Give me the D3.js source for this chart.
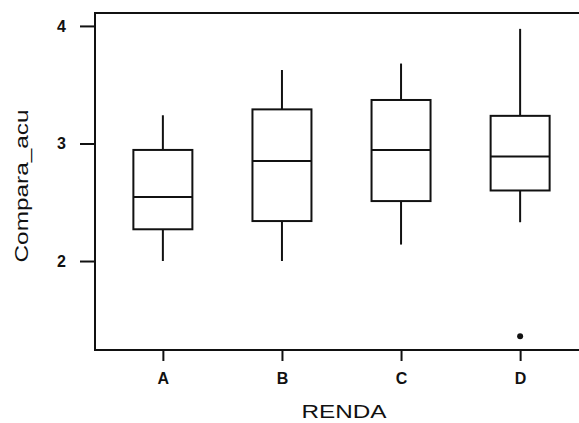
<!DOCTYPE html>
<html>
<head>
<meta charset="utf-8">
<script src="https://cdn.jsdelivr.net/npm/d3@7"></script>
<style>
  html, body { margin: 0; padding: 0; background: #fff; }
  svg { display: block; }
</style>
</head>
<body>
<svg id="chart" width="579" height="423"></svg>
<script>
const categories = ["A", "B", "C", "D"];
const whiskerLow  = [2.00, 2.00, 2.14, 2.33];
const q1          = [2.27, 2.34, 2.51, 2.60];
const median      = [2.545, 2.85, 2.945, 2.89];
const q3          = [2.945, 3.29, 3.37, 3.235];
const whiskerHigh = [3.24, 3.625, 3.68, 3.975];
const outliers    = [{ cat: "D", value: 1.36 }];
const yTicks = [2, 3, 4];
const xTitle = "RENDA";
const yTitle = "Compara_acu";

(function () {
const svg = d3.select("#chart");
const mLeft = 95, mTop = 13, mBottom = 350, rightEdge = 600;

const x = d3.scalePoint().domain(categories).range([95, 588]).padding(0.57);
const y = d3.scaleLinear().domain([1.243, 4.11]).range([mBottom, mTop]);
const boxW = 59;

// frame
svg.append("rect")
  .attr("x", mLeft).attr("y", mTop)
  .attr("width", rightEdge - mLeft).attr("height", mBottom - mTop)
  .attr("fill", "none").attr("stroke", "#111").attr("stroke-width", 2);

// Y axis
const yAxis = svg.append("g")
  .attr("transform", `translate(${mLeft - 1},0)`)
  .attr("font-size", 16)
  .call(d3.axisLeft(y).tickValues(yTicks).tickSize(14).tickPadding(14).tickFormat(d3.format("d")));
yAxis.select(".domain").remove();
yAxis.selectAll(".tick line").attr("stroke", "#111").attr("stroke-width", 2);
yAxis.selectAll(".tick text")
  .attr("fill", "#111")
  .style("font-family", "'Liberation Sans', Arial, sans-serif")
  .style("font-weight", "bold").style("font-size", "16px");

// X axis
const xAxis = svg.append("g")
  .attr("transform", `translate(0,${mBottom + 1})`)
  .attr("font-size", 16)
  .call(d3.axisBottom(x).tickSize(10).tickPadding(12));
xAxis.select(".domain").remove();
xAxis.selectAll(".tick line").attr("stroke", "#111").attr("stroke-width", 2);
xAxis.selectAll(".tick text")
  .attr("fill", "#111")
  .style("font-family", "'Liberation Sans', Arial, sans-serif")
  .style("font-weight", "bold").style("font-size", "16px");

// boxes
const data = categories.map((c, i) => ({
  c, lo: whiskerLow[i], q1: q1[i], med: median[i], q3: q3[i], hi: whiskerHigh[i]
}));
const g = svg.append("g").attr("stroke", "#111").attr("stroke-width", 2).attr("fill", "none");
data.forEach(d => {
  const cx = x(d.c);
  g.append("line").attr("x1", cx).attr("x2", cx).attr("y1", y(d.hi)).attr("y2", y(d.q3));
  g.append("line").attr("x1", cx).attr("x2", cx).attr("y1", y(d.q1)).attr("y2", y(d.lo));
  g.append("rect").attr("x", cx - boxW / 2).attr("width", boxW)
    .attr("y", y(d.q3)).attr("height", y(d.q1) - y(d.q3)).attr("fill", "#fff");
  g.append("line").attr("x1", cx - boxW / 2).attr("x2", cx + boxW / 2)
    .attr("y1", y(d.med)).attr("y2", y(d.med));
});
svg.selectAll("circle.out").data(outliers).enter().append("circle")
  .attr("class", "out")
  .attr("cx", d => x(d.cat)).attr("cy", d => y(d.value)).attr("r", 3)
  .attr("fill", "#111");

// titles
svg.append("text")
  .attr("x", 344).attr("y", 418)
  .attr("text-anchor", "middle")
  .attr("textLength", 85).attr("lengthAdjust", "spacingAndGlyphs")
  .style("font-family", "'Liberation Sans', Arial, sans-serif")
  .style("font-size", "18px").attr("fill", "#111")
  .text(xTitle);
svg.append("text")
  .attr("transform", "translate(28,186) rotate(-90)")
  .attr("text-anchor", "middle")
  .attr("textLength", 153).attr("lengthAdjust", "spacingAndGlyphs")
  .style("font-family", "'Liberation Sans', Arial, sans-serif")
  .style("font-size", "18px").attr("fill", "#111")
  .text(yTitle);
})();
</script>
</body>
</html>
